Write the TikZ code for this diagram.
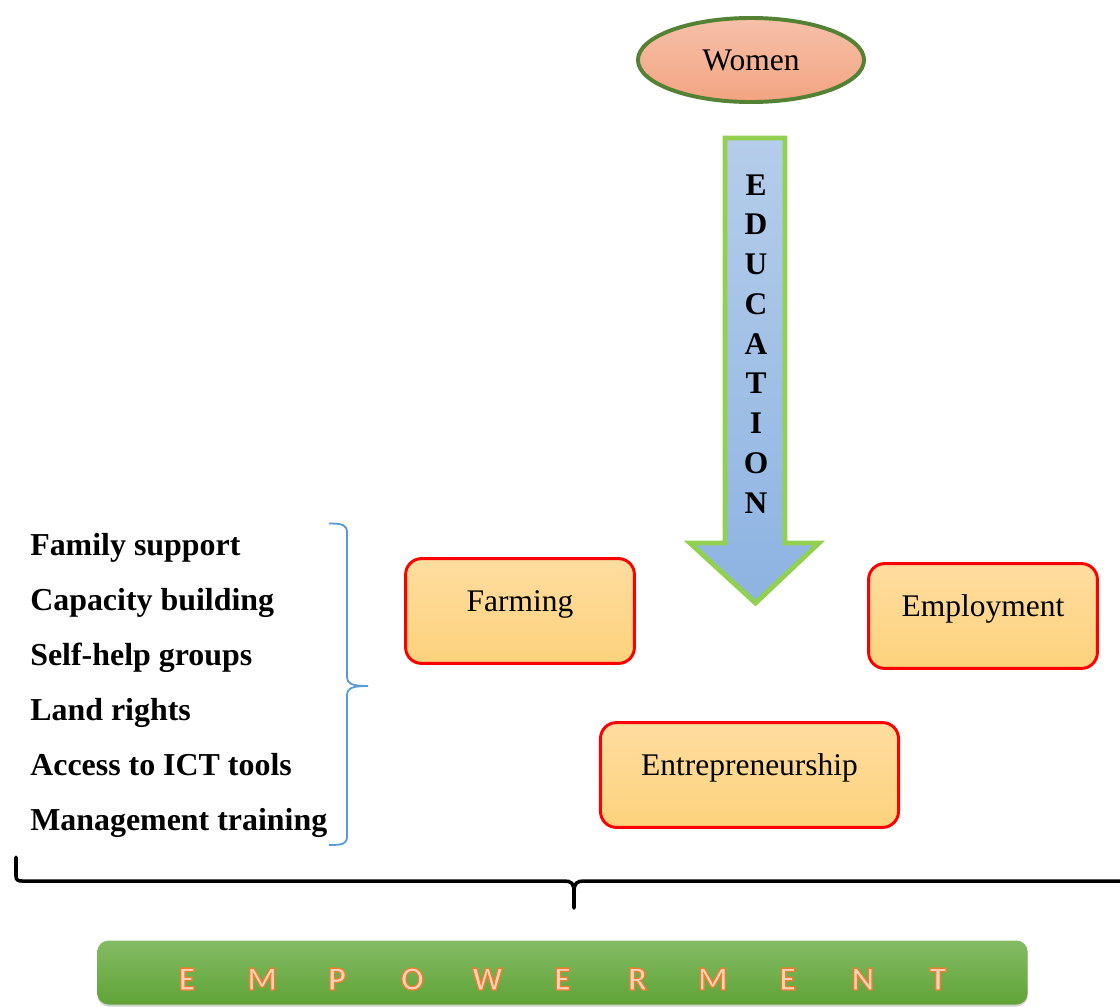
\documentclass[tikz,border=0pt]{standalone}
\usepackage{fontspec}
\setmainfont{Liberation Serif}
\newfontfamily\bannerfont{Carlito}
\usetikzlibrary{shapes.geometric,shadows}

\definecolor{salmonTop}{HTML}{F6C0A9}
\definecolor{salmonBot}{HTML}{F3A481}
\definecolor{oliveRim}{HTML}{548235}
\definecolor{skyTop}{HTML}{B5CDEA}
\definecolor{skyBot}{HTML}{8DB3E2}
\definecolor{limeRim}{HTML}{92D050}
\definecolor{sandTop}{HTML}{FEDD9F}
\definecolor{sandBot}{HTML}{FDD27C}
\definecolor{braceBlue}{HTML}{5B9BD5}
\definecolor{grassTop}{HTML}{84BC65}
\definecolor{grassBot}{HTML}{5FA336}
\definecolor{peach}{HTML}{FAD3B8}

% outlined letters: fill in the current colour, stroke in orange
\newcommand\rimmed[1]{\textcolor{peach}{\special{pdf:literal direct 2 Tr 0.9 w 0.929 0.490 0.192 RG}#1\special{pdf:literal direct 0 Tr}}}

\begin{document}
\begin{tikzpicture}[
    x=0.025cm, y=-0.025cm,
    body/.style={font=\fontsize{22.4}{27}\selectfont},
    women/.style={body,ellipse,draw=oliveRim,line width=2.8pt,top color=salmonTop,bottom color=salmonBot,minimum width=5.65cm,minimum height=2.1cm},
    sector/.style={body,draw=red,line width=2.1pt,rounded corners=0.4cm,top color=sandTop,bottom color=sandBot,text height=0.8em,text depth=0.8em,minimum height=2.62cm},
    factor/.style={anchor=base west,inner sep=0pt,font=\fontsize{22.7}{27}\selectfont\bfseries},
    edu/.style={anchor=base,inner sep=0pt,font=\fontsize{22.4}{27}\selectfont\bfseries},
    banner/.style={rounded corners=0.28cm,top color=grassTop,bottom color=grassBot,minimum width=23.25cm,minimum height=1.6cm,
        drop shadow={shadow xshift=0pt,shadow yshift=-1.5pt,opacity=0.35}},
    bannerletter/.style={anchor=base,inner sep=0pt,font=\bannerfont\bfseries\fontsize{24}{28}\selectfont},
]
    \useasboundingbox (0,0) rectangle (1120,1007);

    \node[women] (women) at (751,60) {Women};

    % education arrow
    \draw[line width=3.5pt,draw=limeRim,top color=skyTop,bottom color=skyBot,miter limit=10]
        (725,138) -- (785,138) -- (785,543) -- (819,543) -- (755.5,603) -- (690,543) -- (725,543) -- cycle;
    \foreach \ch [count=\i from 0] in {E,D,U,C,A,T,I,O,N}
        \node[edu] (edu\i) at (756,{195+39.75*\i}) {\ch};

    \node[sector,minimum width=5.72cm] (farming) at (520,611) {Farming};
    \node[sector,minimum width=5.72cm] (employment) at (983,616) {Employment};
    \node[sector,minimum width=7.45cm] (entre) at (749.5,775) {Entrepreneurship};

    % supporting factors
    \node[factor] (f1) at (30,555) {Family support};
    \node[factor] (f2) at (30,610) {Capacity building};
    \node[factor] (f3) at (30,665) {Self-help groups};
    \node[factor] (f4) at (30,720) {Land rights};
    \node[factor] (f5) at (30,775) {Access to ICT tools};
    \node[factor] (f6) at (30,830) {Management training};

    \draw[braceBlue,line width=1.3pt]
        (329,523.5) .. controls (343,523.5) and (347,525) .. (347,533) -- (347,676)
        .. controls (347,684) and (352,686) .. (368,686)
        .. controls (352,686) and (347,688) .. (347,696) -- (347,836)
        .. controls (347,844) and (343,845) .. (329,845);

    % bottom brace
    \draw[line width=2.5pt,line cap=round]
        (16,857) -- (16,876) .. controls (16,880) and (18,881) .. (22,881) -- (564,881)
        .. controls (571,881) and (574,883) .. (574,892) -- (574,908);
    \draw[line width=2.5pt]
        (574,892) .. controls (574,883) and (577,881) .. (584,881) -- (1125,881);

    \node[banner] (empower) at (562.5,972.5) {};
    \foreach \ch [count=\i from 0] in {E,M,P,O,W,E,R,M,E,N,T}
        \node[bannerletter] (emp\i) at ({187+75.1*\i},990) {\rimmed{\ch}};
\end{tikzpicture}
\end{document}
